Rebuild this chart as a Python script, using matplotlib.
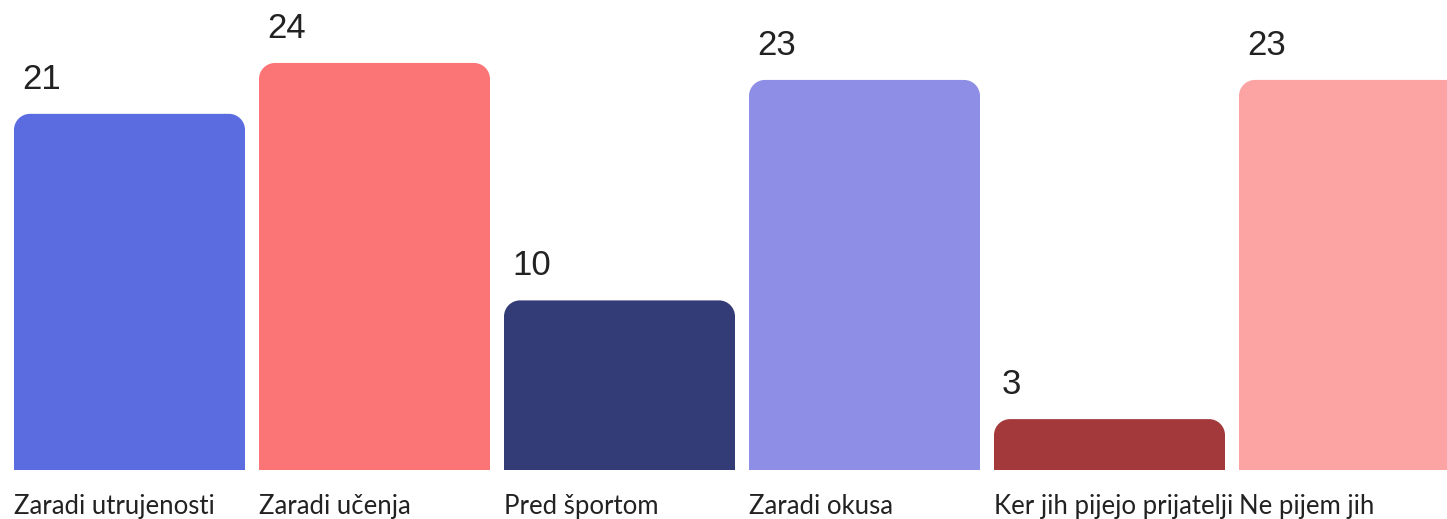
import matplotlib
matplotlib.use("Agg")
import matplotlib.pyplot as plt
from matplotlib.path import Path
from matplotlib.patches import PathPatch

categories = ["Zaradi utrujenosti", "Zaradi učenja", "Pred športom",
              "Zaradi okusa", "Ker jih pijejo prijatelji", "Ne pijem jih"]
values = [21, 24, 10, 23, 3, 23]
colors = ["#5B6BE0", "#FB7476", "#343C77", "#8F8EE6", "#A3393A", "#FCA3A3"]

W, H, DPI = 1447, 519, 100
fig = plt.figure(figsize=(W / DPI, H / DPI), dpi=DPI)
ax = fig.add_axes([0, 0, 1, 1])
ax.set_axis_off()

px_per_x = 245.0
px_per_y = 16.96
x0_px = 129.5
base_px = 49.0
ax.set_xlim(-x0_px / px_per_x, (W - x0_px) / px_per_x)
ax.set_ylim(-base_px / px_per_y, (H - base_px) / px_per_y)

xs = list(range(len(categories)))
bars = ax.bar(xs, values, width=231 / 245, color=colors)

r_px = 16.0
rx = r_px / px_per_x
ry = r_px / px_per_y
k = 0.5523
for b, c in zip(bars, colors):
    x, y = b.get_x(), b.get_y()
    w, h = b.get_width(), b.get_height()
    b.set_visible(False)
    verts = [
        (x, y), (x + w, y), (x + w, y + h - ry),
        (x + w, y + h - ry + k * ry), (x + w - rx + k * rx, y + h), (x + w - rx, y + h),
        (x + rx, y + h),
        (x + rx - k * rx, y + h), (x, y + h - ry + k * ry), (x, y + h - ry),
        (x, y),
    ]
    codes = [Path.MOVETO, Path.LINETO, Path.LINETO,
             Path.CURVE4, Path.CURVE4, Path.CURVE4,
             Path.LINETO,
             Path.CURVE4, Path.CURVE4, Path.CURVE4,
             Path.CLOSEPOLY]
    ax.add_patch(PathPatch(Path(verts, codes), facecolor=c, edgecolor="none"))
    ax.annotate(f"{int(h)}", xy=(x, y + h), xytext=(8 * 0.72, 25 * 0.72),
                textcoords="offset points", ha="left", va="baseline",
                fontsize=25, color="#222222", family=["Liberation Sans", "DejaVu Sans"])

for b, lab in zip(bars, categories):
    ax.annotate(lab, xy=(b.get_x(), 0), xytext=(0, -44 * 0.72),
                textcoords="offset points", ha="left", va="baseline",
                fontsize=18.5, color="#222222", family=["Lato", "DejaVu Sans"])

fig.savefig("out.png", dpi=DPI, facecolor="white")
